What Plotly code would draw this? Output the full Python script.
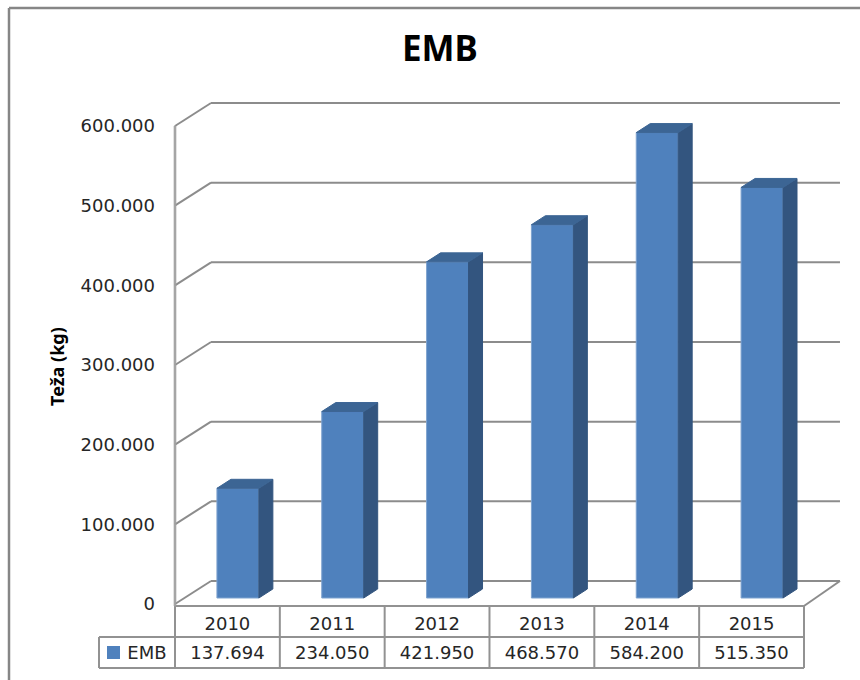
import plotly.graph_objects as go

# ---- data ----
years = ["2010", "2011", "2012", "2013", "2014", "2015"]
emb = [137694, 234050, 421950, 468570, 584200, 515350]
series_name = "EMB"
tick_values = [0, 100000, 200000, 300000, 400000, 500000, 600000]
tick_labels = ["0", "100.000", "200.000", "300.000", "400.000", "500.000", "600.000"]
y_title = "Teža (kg)"

# ---- geometry / style ----
W, H = 860, 680
X0_PX, Y0_PX = 175, 604
CAT_PX = 104.83
VAL_PX = 478 / 600000
FRONT = "#4F81BD"; SIDE = "#33557F"; TOP = "#3C6594"
GRID = "#8C8C8C"; WALL = "#A0A0A0"; TABLE = "#929292"; TXT = "#262626"
FONT = "DejaVu Sans"


def xv(px):
    return (px - X0_PX) / CAT_PX


def yv(py):
    return (Y0_PX - py) / VAL_PX


wall_dx = 36 / CAT_PX
wall_dy = 23 / VAL_PX
bar_dx = 14 / CAT_PX
bar_dy = 9 / VAL_PX
bar_base = 6 / VAL_PX
bar_w = 0.40
bar_off = 0.60  # centre of the bar inside its category
n = len(years)
centres = [i + bar_off for i in range(n)]

fig = go.Figure()

# front faces
fig.add_trace(go.Bar(x=centres, y=emb, base=[bar_base] * n, width=bar_w, name=series_name,
                     marker=dict(color=FRONT, line=dict(color="#7FA3CF", width=1)),
                     showlegend=False, hoverinfo="skip"))

# side and top faces, worked out from the values
for c, v in zip(centres, emb):
    l, r = c - bar_w / 2, c + bar_w / 2
    t = v + bar_base
    fig.add_trace(go.Scatter(x=[r, r + bar_dx, r + bar_dx, r, r],
                             y=[bar_base, bar_base + bar_dy, t + bar_dy, t, bar_base],
                             mode="lines", fill="toself", fillcolor=SIDE,
                             line=dict(color=SIDE, width=1), showlegend=False, hoverinfo="skip"))
    fig.add_trace(go.Scatter(x=[l, l + bar_dx, r + bar_dx, r, l],
                             y=[t, t + bar_dy, t + bar_dy, t, t],
                             mode="lines", fill="toself", fillcolor=TOP,
                             line=dict(color=TOP, width=1), showlegend=False, hoverinfo="skip"))

# side wall front edge (a thin filled strip so it cannot collapse)
strip = 0.8 / CAT_PX
fig.add_trace(go.Scatter(x=[-strip, strip, strip, -strip, -strip],
                         y=[yv(606), yv(606), tick_values[-1], tick_values[-1], yv(606)],
                         mode="lines", fill="toself", fillcolor=WALL,
                         line=dict(color=WALL, width=1), showlegend=False, hoverinfo="skip"))

# data table text
row_years = yv(625.5)
row_vals = yv(654)
fmt = [f"{v:,}".replace(",", ".") for v in emb]
cat_c = [i + 0.5 for i in range(n)]
fig.add_trace(go.Scatter(x=cat_c, y=[row_years] * n, mode="text", text=years,
                         textfont=dict(family=FONT, size=18, color=TXT),
                         showlegend=False, hoverinfo="skip"))
fig.add_trace(go.Scatter(x=cat_c, y=[row_vals] * n, mode="text", text=fmt,
                         textfont=dict(family=FONT, size=18, color=TXT),
                         showlegend=False, hoverinfo="skip"))
fig.add_trace(go.Scatter(x=[xv(113.5)], y=[yv(652.5)], mode="markers",
                         marker=dict(symbol="square", size=13, color=FRONT),
                         showlegend=False, hoverinfo="skip"))
fig.add_trace(go.Scatter(x=[xv(147)], y=[row_vals], mode="text", text=[series_name],
                         textfont=dict(family=FONT, size=18, color=TXT),
                         showlegend=False, hoverinfo="skip"))

shapes = []


def seg(x0, y0, x1, y1, color, width):
    shapes.append(dict(type="line", xref="x", yref="y", x0=x0, y0=y0, x1=x1, y1=y1,
                       line=dict(color=color, width=width), layer="below"))


# back-wall gridlines and their diagonals on the side wall
for tv in tick_values:
    seg(0, tv, wall_dx, tv + wall_dy, GRID, 2)
    seg(wall_dx, tv + wall_dy, n + wall_dx, tv + wall_dy, GRID, 2)
# floor right edge
seg(n, yv(606), n + wall_dx, wall_dy, GRID, 2)

# table grid
t_top, t_mid, t_bot = yv(606), yv(637), yv(668)
seg(0, t_top, n, t_top, TABLE, 2)
seg(xv(99), t_mid, n, t_mid, TABLE, 2)
seg(xv(99), t_bot, n, t_bot, TABLE, 2)
seg(xv(99), t_mid, xv(99), t_bot, TABLE, 2)
for i in range(n + 1):
    seg(i, t_top, i, t_bot, TABLE, 2)

# outer chart frame
shapes.append(dict(type="line", xref="paper", yref="paper", x0=9 / W, x1=1, y0=1 - 8 / H, y1=1 - 8 / H,
                   line=dict(color="#868686", width=2.5), layer="below"))
shapes.append(dict(type="line", xref="paper", yref="paper", x0=9 / W, x1=9 / W, y0=0, y1=1 - 8 / H,
                   line=dict(color="#868686", width=2.5), layer="below"))

fig.update_layout(
    width=W, height=H, margin=dict(l=0, r=0, t=0, b=0),
    paper_bgcolor="white", plot_bgcolor="rgba(0,0,0,0)", shapes=shapes, showlegend=False,
    xaxis=dict(range=[xv(0), xv(W)], domain=[0, 1], visible=False, fixedrange=True),
    yaxis=dict(range=[yv(H), yv(0)], domain=[0, 1], anchor="free", position=X0_PX / W,
               tickmode="array", tickvals=tick_values, ticktext=tick_labels,
               tickfont=dict(family=FONT, size=18, color=TXT), showgrid=False, zeroline=False,
               showline=False, ticks="", ticklabelstandoff=20, fixedrange=True),
    annotations=[
        dict(text="<b>EMB</b>", xref="paper", yref="paper", x=440 / W, y=1 - 48 / H, showarrow=False,
             font=dict(family="Noto Sans", size=35, color="black"), xanchor="center", yanchor="middle"),
        dict(text=f"<b>{y_title}</b>", xref="paper", yref="paper", x=57 / W, y=1 - 366 / H, showarrow=False,
             textangle=-90, font=dict(family="Noto Sans", size=18, color="black"),
             xanchor="center", yanchor="middle"),
    ],
)

fig.write_html("out.html", config={"displayModeBar": False},
               post_script="document.body.style.margin='0';document.body.style.overflow='hidden';")
